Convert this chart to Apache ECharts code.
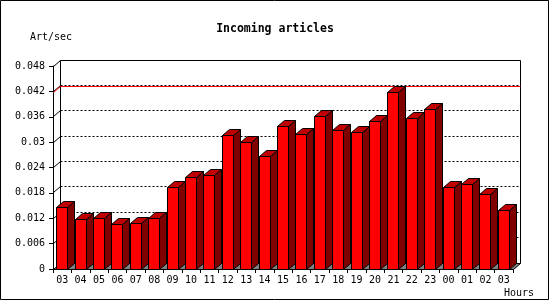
<!DOCTYPE html>
<html><head><meta charset="utf-8">
<script src="https://cdn.jsdelivr.net/npm/echarts@6/dist/echarts.min.js"></script>
<style>html,body{margin:0;padding:0;background:#fff}#c{width:550px;height:300px}</style>
</head><body><div id="c"></div><script>
const hours = ['03','04','05','06','07','08','09','10','11','12','13','14','15','16','17','18','19','20','21','22','23','00','01','02','03'];
const artPerSec = [0.0146,0.0116,0.0120,0.0106,0.0108,0.0120,0.0193,0.0217,0.0222,0.0316,0.0300,0.0267,0.0338,0.0317,0.0360,0.0327,0.0323,0.0348,0.0417,0.0357,0.0376,0.0193,0.0200,0.0177,0.0139];
const yMax = 0.048;
const yStep = 0.006;
const peakLine = 0.0417;
const titleText = 'Incoming articles';
const yName = 'Art/sec';
const xName = 'Hours';

const FONT = '"DejaVu Sans Mono", "Liberation Mono", monospace';
const DX = 7, DY = 6;
const px = v => Math.floor(v) + 0.5;

function renderWall(params, api) {
  const cs = params.coordSys;
  const L = px(cs.x), R = px(cs.x + cs.width);
  const T = px(api.coord([0, yMax])[1]);
  const B = px(api.coord([0, 0])[1]);
  const ch = [];
  const line = (x1, y1, x2, y2, stroke, dash) => ch.push({
    type: 'line', shape: {x1, y1, x2, y2},
    style: {stroke, lineWidth: 1, lineDash: dash || null}
  });
  // back wall
  line(L + DX, T - DY, R + DX, T - DY, '#000');
  line(L + DX, T - DY, L + DX, B - DY, '#000');
  line(R + DX, T - DY, R + DX, B - DY, '#000');
  line(L, T, L + DX, T - DY, '#000');
  // grid lines on back wall
  for (let k = 1; k * yStep < yMax - 1e-9; k++) {
    const y = px(api.coord([0, k * yStep])[1]);
    line(L + DX, y - DY, R + DX, y - DY, '#000', [2, 2]);
    line(L, y, L + DX, y - DY, '#000');
  }
  // peak line
  const yr = px(api.coord([0, peakLine])[1]);
  line(L + DX, yr - DY, R + DX, yr - DY, '#ff0000');
  line(L, yr, L + DX, yr - DY, '#ff0000');
  // floor
  ch.push({
    type: 'polygon',
    shape: {points: [[L, B], [R, B], [R + DX, B - DY], [L + DX, B - DY]]},
    style: {fill: '#808080', stroke: '#000', lineWidth: 1}
  });
  return {type: 'group', children: ch};
}

function renderBar(params, api) {
  const i = api.value(0), v = api.value(1);
  const c = api.coord([i, v]);
  const c0 = api.coord([i, 0]);
  const bw = 11;
  const xl = px(c[0] - bw / 2);
  const xr = xl + bw;
  const yt = px(c[1]);
  const yb = px(c0[1]);
  const st = {stroke: '#000', lineWidth: 1};
  return {type: 'group', children: [
    {type: 'polygon', shape: {points: [[xr, yt], [xr + DX, yt - DY], [xr + DX, yb - DY], [xr, yb]]},
      style: Object.assign({fill: '#800000'}, st)},
    {type: 'polygon', shape: {points: [[xl, yt], [xl + DX, yt - DY], [xr + DX, yt - DY], [xr, yt]]},
      style: Object.assign({fill: '#c00000'}, st)},
    {type: 'rect', shape: {x: xl, y: yt, width: bw, height: yb - yt},
      style: Object.assign({fill: '#ff0000'}, st)}
  ]};
}

const chart = echarts.init(document.getElementById('c'), null, {renderer: 'canvas'});
chart.setOption({
  animation: false,
  backgroundColor: '#fff',
  title: {
    text: titleText, left: 'center', top: 18,
    textStyle: {fontFamily: FONT, fontSize: 11.5, fontWeight: 'bold', color: '#000'}
  },
  grid: {left: 53, top: 66, width: 460, height: 203, containLabel: false},
  xAxis: {
    type: 'category', data: hours, boundaryGap: true,
    axisLine: {show: true, lineStyle: {color: '#000', width: 1}},
    axisTick: {show: true, length: 4, interval: 0, lineStyle: {color: '#000'}},
    axisLabel: {interval: 0, margin: 6, color: '#000', fontFamily: FONT, fontSize: 10},
    splitLine: {show: false}
  },
  yAxis: {
    type: 'value', min: 0, max: yMax, interval: yStep,
    axisLine: {show: true, lineStyle: {color: '#000', width: 1}},
    axisTick: {show: true, length: 4, lineStyle: {color: '#000'}},
    axisLabel: {margin: 8, color: '#000', fontFamily: FONT, fontSize: 10},
    splitLine: {show: false}
  },
  graphic: [
    {type: 'rect', shape: {x: 0.5, y: 0.5, width: 548, height: 299}, style: {fill: null, stroke: '#000', lineWidth: 1}, z: 100},
    {type: 'text', style: {text: yName, x: 30, y: 37, font: '10px ' + FONT, fill: '#000', align: 'left', verticalAlign: 'middle'}},
    {type: 'text', style: {text: xName, x: 504, y: 293, font: '10px ' + FONT, fill: '#000', align: 'left', verticalAlign: 'middle'}}
  ],
  series: [
    {type: 'custom', z: 1, clip: false, silent: true, renderItem: renderWall, data: [[0, 0]], encode: {x: 0, y: 1}},
    {type: 'custom', z: 3, clip: false, renderItem: renderBar, data: artPerSec.map((v, i) => [i, v]), encode: {x: 0, y: 1}}
  ]
});
</script></body></html>
